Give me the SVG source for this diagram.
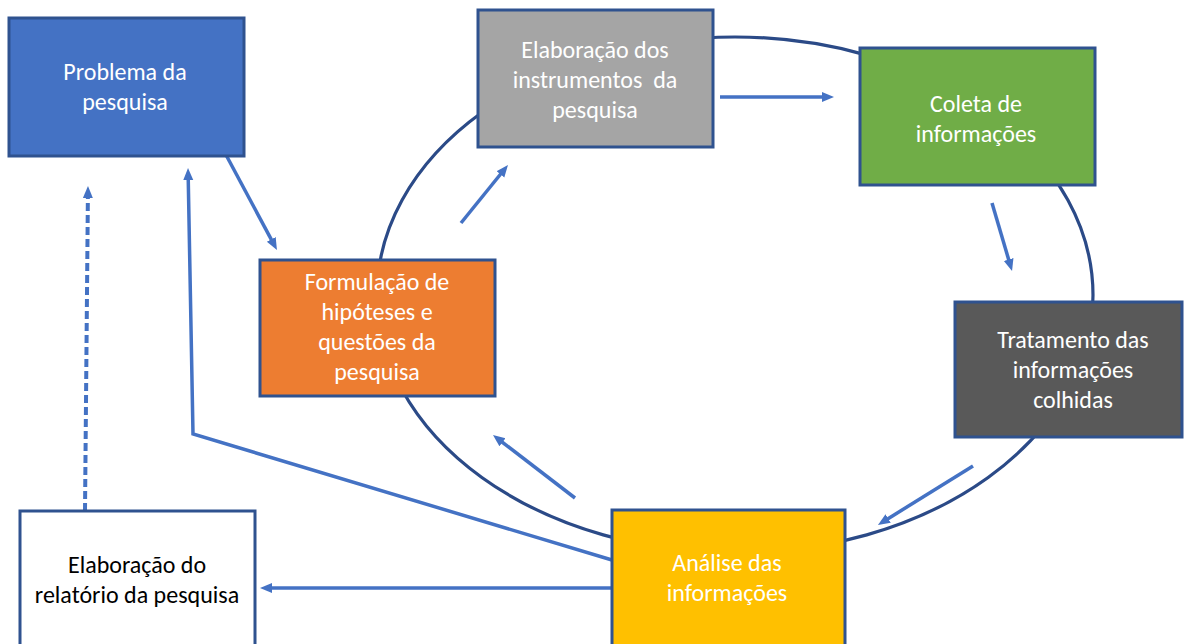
<svg xmlns="http://www.w3.org/2000/svg" width="1184" height="644" viewBox="0 0 1184 644">
  <style>
    .box { stroke: #2F528F; stroke-width: 3; }
    .lbl { font-family: Calibri, Carlito, "Open Sans", "Noto Sans", sans-serif; font-size: 24px; text-anchor: middle; fill: #FFFFFF; }
    .dark { fill: #000000; }
    .cycle { fill: none; stroke: #2B4A87; stroke-width: 3.2; }
    .arrow { fill: none; stroke: #4472C4; stroke-width: 3.5; marker-end: url(#head); }
    .dashed { stroke-width: 4; stroke-dasharray: 8 4; }
  </style>
  <defs>
    <marker id="head" markerUnits="userSpaceOnUse" markerWidth="13" markerHeight="11" refX="3" refY="5" orient="auto">
      <path d="M0,0 L12,5 L0,10 z" fill="#4472C4"/>
    </marker>
  </defs>
  <rect width="1184" height="644" fill="#FFFFFF"/>

  <!-- research cycle ring and flow arrows -->
  <g id="connectors">
    <ellipse class="cycle" cx="735" cy="295" rx="358" ry="258"/>
    <path class="arrow" d="M225,153 L272.7,242.1"/>
    <path class="arrow" d="M461,223 L502.3,172"/>
    <path class="arrow" d="M720,97 L825,97"/>
    <path class="arrow" d="M992,203 L1009.5,262.4"/>
    <path class="arrow" d="M973,466 L885.6,520.2"/>
    <path class="arrow" d="M575,498 L500.1,440.5"/>
    <path class="arrow" d="M612,560 L193,434 L188.2,177"/>
    <path class="arrow" d="M612,588 L269,588"/>
    <path class="arrow dashed" d="M85,511 L87.9,195"/>
  </g>

  <g id="problema">
    <rect class="box" x="9" y="18" width="235" height="138" fill="#4472C4"/>
    <text class="lbl" x="125" y="80">Problema da</text>
    <text class="lbl" x="125" y="110">pesquisa</text>
  </g>

  <g id="instrumentos">
    <rect class="box" x="478" y="10" width="235" height="137" fill="#A5A5A5"/>
    <text class="lbl" x="595" y="58">Elaboração dos</text>
    <text class="lbl" x="595" y="88" xml:space="preserve">instrumentos  da</text>
    <text class="lbl" x="595" y="118">pesquisa</text>
  </g>

  <g id="coleta">
    <rect class="box" x="860" y="48" width="235" height="137" fill="#70AD47"/>
    <text class="lbl" x="976" y="112">Coleta de</text>
    <text class="lbl" x="976" y="142">informações</text>
  </g>

  <g id="tratamento">
    <rect class="box" x="955" y="302" width="227" height="135" fill="#595959"/>
    <text class="lbl" x="1073" y="348">Tratamento das</text>
    <text class="lbl" x="1073" y="378">informações</text>
    <text class="lbl" x="1073" y="408">colhidas</text>
  </g>

  <g id="hipoteses">
    <rect class="box" x="260" y="260" width="235" height="136" fill="#ED7D31"/>
    <text class="lbl" x="377" y="290">Formulação de</text>
    <text class="lbl" x="377" y="320">hipóteses e</text>
    <text class="lbl" x="377" y="350">questões da</text>
    <text class="lbl" x="377" y="380">pesquisa</text>
  </g>

  <g id="analise">
    <rect class="box" x="612" y="510" width="233" height="150" fill="#FFC000"/>
    <text class="lbl" x="727" y="571">Análise das</text>
    <text class="lbl" x="727" y="601">informações</text>
  </g>

  <g id="relatorio">
    <rect class="box" x="20" y="511" width="235" height="150" fill="#FFFFFF"/>
    <text class="lbl dark" x="137" y="573">Elaboração do</text>
    <text class="lbl dark" x="137" y="603">relatório da pesquisa</text>
  </g>
</svg>
